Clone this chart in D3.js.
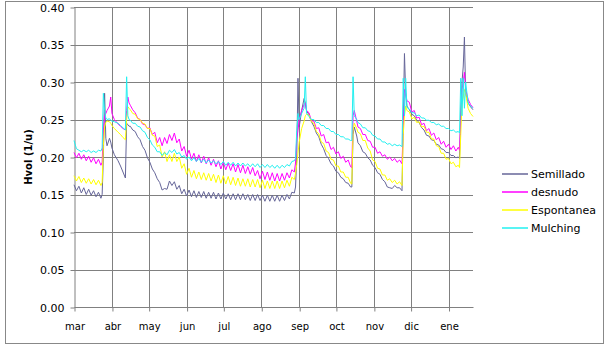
<!DOCTYPE html>
<html>
<head>
<meta charset="utf-8">
<title>Hvol</title>
<script src="https://d3js.org/d3.v7.min.js"></script>
<style>
  body { margin: 0; background: #fff; }
  svg { display: block; font-family: "DejaVu Sans", Verdana, sans-serif; }
</style>
</head>
<body>
<div id="my_dataviz"></div>
<script>

// days since 1 March (shared by all series)
var days = [
  0,2,4,6,8,10,12,14,16,18,20,22,23,
  24,25,26,27,29,30,31,33,36,38,40,42,
  43,44,45,
  46,48,50,52,54,56,58,60,62,64,
  66,68,70,72,74,76,78,80,82,84,
  86,88,90,92,94,96,98,100,102,104,
  106,108,110,112,114,116,118,120,122,124,
  126,128,130,132,134,136,138,140,142,144,
  146,148,150,152,154,156,158,160,162,164,
  166,168,170,172,174,176,178,180,
  181,182,
  183,184,186,188,189,190,192,194,196,198,200,202,204,206,208,210,212,214,216,218,220,222,224,226,227,
  228,229,231,232,234,236,238,240,242,244,246,248,250,252,254,256,258,260,262,264,266,268,
  269,270,271,272,274,276,278,280,282,284,286,288,290,292,294,296,298,300,302,304,306,308,310,312,314,315,
  316,317,318,319,320,322,324,326
];

var semillado = [
  .163,.155,.161,.152,.159,.150,.157,.149,.155,.147,.153,.145,.150,
  .200,.285,.225,.215,.225,.220,.212,.203,.195,.188,.180,.172,
  .245,.243,.241,
  .241,.236,.234,.227,.223,.214,.209,.199,.193,.184,
  .179,.171,.166,.156,.158,.157,.168,.162,.167,.157,
  .162,.151,.157,.148,.156,.147,.155,.146,.154,.146,
  .154,.145,.153,.145,.153,.144,.152,.144,.152,.144,
  .151,.143,.151,.143,.151,.143,.151,.143,.150,.142,
  .150,.142,.150,.142,.149,.141,.149,.141,.149,.141,
  .149,.141,.149,.142,.150,.144,.153,.152,
  .160,.200,
  .305,.240,.262,.278,.272,.262,.256,.247,.241,.232,.227,.217,.211,.202,.198,.191,.188,.181,.179,.173,.171,.166,.165,.160,.160,
  .230,.240,.228,.219,.215,.207,.205,.199,.196,.189,.186,.179,.177,.170,.167,.160,.159,.158,.162,.159,.159,.155,
  .250,.338,.285,.268,.263,.257,.255,.249,.246,.239,.236,.229,.228,.223,.222,.217,.216,.211,.210,.206,.206,.202,.202,.199,.200,.198,
  .260,.300,.320,.360,.285,.272,.267,.263
];

var desnudo = [
  .206,.199,.205,.197,.203,.195,.201,.193,.199,.191,.197,.189,.193,
  .235,.255,.258,.262,.268,.280,.258,.250,.244,.241,.238,.236,
  .262,.280,.272,
  .269,.263,.259,.252,.250,.244,.243,.238,.239,.230,
  .233,.219,.226,.215,.226,.218,.230,.222,.232,.219,
  .224,.208,.214,.201,.209,.197,.205,.194,.203,.192,
  .201,.191,.199,.189,.197,.187,.195,.184,.193,.183,
  .192,.182,.191,.180,.190,.179,.189,.178,.187,.177,
  .186,.175,.182,.171,.181,.170,.180,.169,.179,.168,
  .178,.168,.178,.169,.179,.172,.183,.180,
  .192,.225,
  .235,.250,.262,.270,.272,.262,.259,.248,.248,.238,.239,.228,.230,.219,.220,.210,.213,.204,.207,.198,.201,.193,.196,.187,.186,
  .255,.262,.248,.240,.238,.230,.230,.222,.221,.213,.213,.205,.207,.201,.203,.197,.200,.195,.198,.193,.196,.191,
  .240,.290,.285,.275,.273,.260,.262,.252,.253,.243,.245,.235,.238,.229,.232,.223,.226,.217,.221,.213,.217,.210,.215,.208,.213,.209,
  .250,.290,.300,.313,.290,.277,.270,.266
];

var espontanea = [
  .175,.168,.174,.166,.172,.165,.171,.164,.170,.163,.169,.162,.166,
  .215,.240,.246,.248,.247,.245,.242,.238,.233,.230,.226,.223,
  .250,.267,.265,
  .263,.258,.257,.251,.250,.245,.244,.238,.238,.229,
  .228,.214,.216,.200,.207,.194,.203,.194,.205,.194,
  .200,.185,.191,.177,.185,.173,.182,.171,.180,.170,
  .179,.169,.178,.168,.177,.166,.176,.165,.175,.164,
  .174,.163,.173,.162,.172,.161,.171,.161,.171,.160,
  .170,.160,.170,.159,.169,.158,.168,.158,.168,.158,
  .168,.158,.168,.159,.169,.161,.173,.170,
  .178,.190,
  .205,.220,.238,.248,.255,.257,.256,.247,.245,.234,.231,.220,.218,.208,.206,.197,.196,.188,.188,.180,.180,.173,.173,.165,.164,
  .235,.245,.238,.233,.231,.222,.222,.212,.208,.196,.194,.185,.184,.176,.176,.169,.171,.166,.169,.164,.167,.162,
  .230,.255,.268,.262,.260,.251,.253,.246,.247,.240,.241,.233,.233,.224,.224,.215,.214,.205,.205,.197,.198,.191,.193,.187,.189,.186,
  .230,.270,.280,.290,.285,.265,.258,.254
];

var mulching = [
  .222,.211,.209,.207,.209,.207,.209,.206,.208,.206,.209,.208,.212,
  .285,.262,.252,.250,.251,.249,.248,.247,.245,.242,.239,.236,
  .307,.255,.250,
  .249,.245,.245,.241,.240,.235,.233,.226,.223,.216,
  .213,.207,.207,.202,.206,.203,.209,.206,.210,.204,
  .206,.200,.202,.197,.200,.195,.199,.194,.198,.193,
  .197,.192,.196,.192,.195,.191,.194,.190,.194,.189,
  .193,.189,.193,.188,.192,.188,.192,.188,.191,.187,
  .191,.187,.191,.186,.190,.186,.190,.186,.189,.185,
  .189,.185,.189,.186,.190,.188,.194,.195,
  .198,.235,
  .258,.250,.258,.265,.307,.258,.254,.250,.250,.246,.246,.242,.242,.238,.238,.234,.234,.230,.230,.227,.227,.224,.224,.222,.222,
  .307,.255,.250,.246,.244,.239,.239,.235,.234,.229,.228,.224,.224,.220,.220,.217,.218,.215,.217,.215,.216,.214,
  .305,.255,.305,.266,.264,.259,.259,.255,.256,.252,.252,.249,.249,.246,.246,.243,.244,.241,.241,.238,.238,.235,.236,.233,.234,.232,
  .305,.255,.305,.265,.300,.272,.268,.265
];

var seriesNames = ["Semillado", "desnudo", "Espontanea", "Mulching"];
var seriesColors = ["#666699", "#ff00ff", "#ffff00", "#22f0f0"];
var monthLabels = ["mar","abr","may","jun","jul","ago","sep","oct","nov","dic","ene"];
var yTicks = [0, 0.05, 0.10, 0.15, 0.20, 0.25, 0.30, 0.35, 0.40];

var width = 610, height = 354;
var plot = {left: 74, right: 473, top: 7, bottom: 307};

var svg = d3.select("#my_dataviz")
  .append("svg")
    .attr("width", width)
    .attr("height", height);

// chart border
svg.append("rect")
  .attr("x", 5.5).attr("y", 1.5)
  .attr("width", 598).attr("height", 342)
  .attr("fill", "#fff")
  .attr("stroke", "#888")
  .attr("stroke-width", 1);

var start = new Date(Date.UTC(2007, 2, 1));
var end = d3.utcDay.offset(start, 326);

var x = d3.scaleUtc()
  .domain([start, end])
  .range([plot.left, plot.right]);

var y = d3.scaleLinear()
  .domain([0, 0.40])
  .range([plot.bottom, plot.top]);

var months = d3.utcMonth.range(start, end);

// horizontal grid
svg.append("g")
  .selectAll("line")
  .data(yTicks.slice(1))
  .enter()
  .append("line")
    .attr("x1", plot.left).attr("x2", plot.right)
    .attr("y1", function(d) { return Math.round(y(d)) + 0.5; })
    .attr("y2", function(d) { return Math.round(y(d)) + 0.5; })
    .attr("stroke", "#808080");

// vertical grid at month starts
svg.append("g")
  .selectAll("line")
  .data(months.slice(1))
  .enter()
  .append("line")
    .attr("x1", function(d) { return Math.round(x(d)) + 0.5; })
    .attr("x2", function(d) { return Math.round(x(d)) + 0.5; })
    .attr("y1", plot.top).attr("y2", plot.bottom)
    .attr("stroke", "#808080");

// Y axis
var yAxis = svg.append("g")
  .attr("transform", "translate(" + (plot.left + 0.5) + ",0.5)")
  .call(d3.axisLeft(y).tickValues(yTicks).tickFormat(d3.format(".2f")).tickSize(4).tickPadding(6).tickSizeOuter(0));
yAxis.select(".domain").attr("stroke", "#808080");
yAxis.selectAll(".tick line").attr("stroke", "#808080");
yAxis.selectAll("text").attr("font-size", 11).attr("fill", "#000")
  .attr("font-family", "DejaVu Sans");

// X axis
var xAxis = svg.append("g")
  .attr("transform", "translate(0.5," + (plot.bottom + 0.5) + ")")
  .call(d3.axisBottom(x).tickValues(months)
    .tickFormat(function(d, i) { return monthLabels[i]; })
    .tickSize(4).tickPadding(11).tickSizeOuter(0));
xAxis.select(".domain").attr("stroke", "#808080").attr("d", "M" + plot.left + ",0H" + plot.right);
xAxis.selectAll(".tick line").attr("stroke", "#808080");
xAxis.selectAll("text").attr("font-size", 10).attr("fill", "#000")
  .attr("font-family", "DejaVu Sans");

// Y title
svg.append("text")
  .attr("transform", "translate(32,157) rotate(-90)")
  .attr("text-anchor", "middle")
  .attr("font-size", 10)
  .attr("font-weight", "bold")
  .text("Hvol (1/u)");

// lines
var allSeries = [semillado, desnudo, espontanea, mulching];
var line = d3.line()
  .x(function(d) { return x(d3.utcDay.offset(start, d.day)); })
  .y(function(d) { return y(d.value); });

allSeries.forEach(function(values, k) {
  var n = Math.min(days.length, values.length);
  if (values.length !== days.length) console.error(seriesNames[k], values.length, days.length);
  var data = [];
  for (var i = 0; i < n; i++) data.push({day: days[i], value: values[i]});
  svg.append("path")
    .datum(data)
    .attr("fill", "none")
    .attr("stroke", seriesColors[k])
    .attr("stroke-width", 1)
    .attr("d", line);
});

// legend
var legend = svg.append("g")
  .selectAll("g")
  .data(seriesNames)
  .enter()
  .append("g")
    .attr("transform", function(d, i) { return "translate(502," + (174 + i * 18) + ")"; });
legend.append("line")
  .attr("x1", 0).attr("x2", 26)
  .attr("stroke", function(d, i) { return seriesColors[i]; })
  .attr("stroke-width", 1.5);
legend.append("text")
  .attr("x", 29).attr("dy", "0.35em")
  .attr("font-size", 11)
  .text(function(d) { return d; });

</script>
</body>
</html>
